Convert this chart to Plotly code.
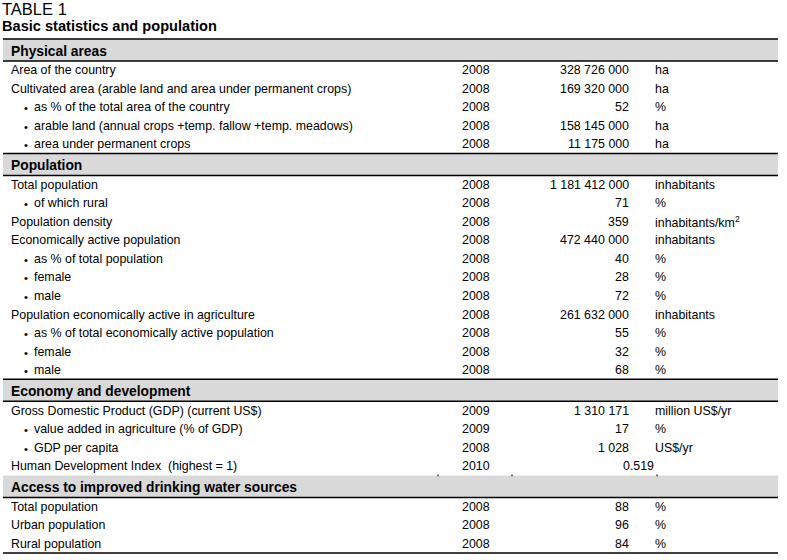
import plotly.graph_objects as go

# ---------------- data ----------------
title_small = "TABLE 1"
title_main = "Basic statistics and population"

sections = ["Physical areas", "Population", "Economy and development",
            "Access to improved drinking water sources"]

row_section = [0, 0, 0, 0, 0,
               1, 1, 1, 1, 1, 1, 1, 1, 1, 1, 1,
               2, 2, 2, 2,
               3, 3, 3]
row_labels = [
    "Area of the country",
    "Cultivated area (arable land and area under permanent crops)",
    "as % of the total area of the country",
    "arable land (annual crops +temp. fallow +temp. meadows)",
    "area under permanent crops",
    "Total population",
    "of which rural",
    "Population density",
    "Economically active population",
    "as % of total population",
    "female",
    "male",
    "Population economically active in agriculture",
    "as % of total economically active population",
    "female",
    "male",
    "Gross Domestic Product (GDP) (current US$)",
    "value added in agriculture (% of GDP)",
    "GDP per capita",
    "Human Development Index  (highest = 1)",
    "Total population",
    "Urban population",
    "Rural population",
]
row_bullet = [False, False, True, True, True,
              False, True, False, False, True, True, True, False, True, True, True,
              False, True, True, False,
              False, False, False]
row_years = ["2008", "2008", "2008", "2008", "2008",
             "2008", "2008", "2008", "2008", "2008", "2008", "2008", "2008", "2008", "2008", "2008",
             "2009", "2009", "2008", "2010",
             "2008", "2008", "2008"]
row_values = ["328 726 000", "169 320 000", "52", "158 145 000", "11 175 000",
              "1 181 412 000", "71", "359", "472 440 000", "40", "28", "72",
              "261 632 000", "55", "32", "68",
              "1 310 171", "17", "1 028", "0.519",
              "88", "96", "84"]
row_units = ["ha", "ha", "%", "ha", "ha",
             "inhabitants", "%", "inhabitants/km<sup>2</sup>", "inhabitants", "%", "%", "%",
             "inhabitants", "%", "%", "%",
             "million US$/yr", "%", "US$/yr", "",
             "%", "%", "%"]

# ---------------- layout constants ----------------
W, H = 787, 560
X0, X1 = 3, 778
TOP = 39
BAND_H = 22
ROW_H = 18.52
X_LABEL = 11
X_BULLET = 24
X_BULLET_TEXT = 34
X_YEAR = 475.5
X_VALUE_R = 629
X_UNIT = 655
X_VALUE_R_NOUNIT = 654
FONT = "Arial, Liberation Sans, sans-serif"
GRAY = "#d9d9d9"
ROW_SIZE = 12.4
HEAD_SIZE = 13.8

fig = go.Figure()
shapes = []
annotations = []

def txt(x, y, s, anchor="left", size=ROW_SIZE, bold=False):
    annotations.append(dict(
        x=x, y=y, xref="x", yref="y", text=("<b>%s</b>" % s) if bold else s,
        showarrow=False, xanchor=anchor, yanchor="middle",
        font=dict(family=FONT, size=size, color="black"),
        borderpad=0, borderwidth=0))

# titles
txt(2, 9, title_small, size=16.5)
txt(2, 26, title_main, size=14.6, bold=True)

y = TOP
for si, name in enumerate(sections):
    top = y
    bot = y + BAND_H
    shapes.append(dict(type="rect", xref="x", yref="y", x0=X0, x1=X1, y0=top, y1=bot,
                       fillcolor=GRAY, line=dict(width=0), layer="below"))
    if si < 3:
        shapes.append(dict(type="line", xref="x", yref="y", x0=X0, x1=X1, y0=top, y1=top,
                           line=dict(color="black", width=1.5)))
    else:
        for xt in (438, 512, 657):
            shapes.append(dict(type="line", xref="x", yref="y", x0=xt, x1=xt,
                               y0=top - 1, y1=top + 1, line=dict(color="black", width=1)))
    shapes.append(dict(type="line", xref="x", yref="y", x0=X0, x1=X1, y0=bot, y1=bot,
                       line=dict(color="black", width=1.5)))
    txt(X_LABEL, (top + bot) / 2 + 1, name, size=HEAD_SIZE, bold=True)
    y = bot
    idx = [i for i, s in enumerate(row_section) if s == si]
    for i in idx:
        cy = y + ROW_H / 2
        if row_bullet[i]:
            txt(X_BULLET, cy + 1, "•", size=11)
            txt(X_BULLET_TEXT, cy, row_labels[i])
        else:
            txt(X_LABEL, cy, row_labels[i])
        txt(X_YEAR, cy, row_years[i], anchor="center")
        if row_units[i]:
            txt(X_VALUE_R, cy, row_values[i], anchor="right")
            txt(X_UNIT, cy, row_units[i])
        else:
            txt(X_VALUE_R_NOUNIT, cy, row_values[i], anchor="right")
        y += ROW_H

shapes.append(dict(type="line", xref="x", yref="y", x0=X0, x1=X1, y0=y, y1=y,
                   line=dict(color="black", width=1.5)))

fig.update_layout(
    width=W, height=H, margin=dict(l=0, r=0, t=0, b=0),
    paper_bgcolor="white", plot_bgcolor="white",
    xaxis=dict(range=[0, W], visible=False, fixedrange=True),
    yaxis=dict(range=[H, 0], visible=False, fixedrange=True),
    shapes=shapes, annotations=annotations, showlegend=False,
)
fig.write_html("out.html", config={"displayModeBar": False},
               post_script="document.body.style.margin='0';")
